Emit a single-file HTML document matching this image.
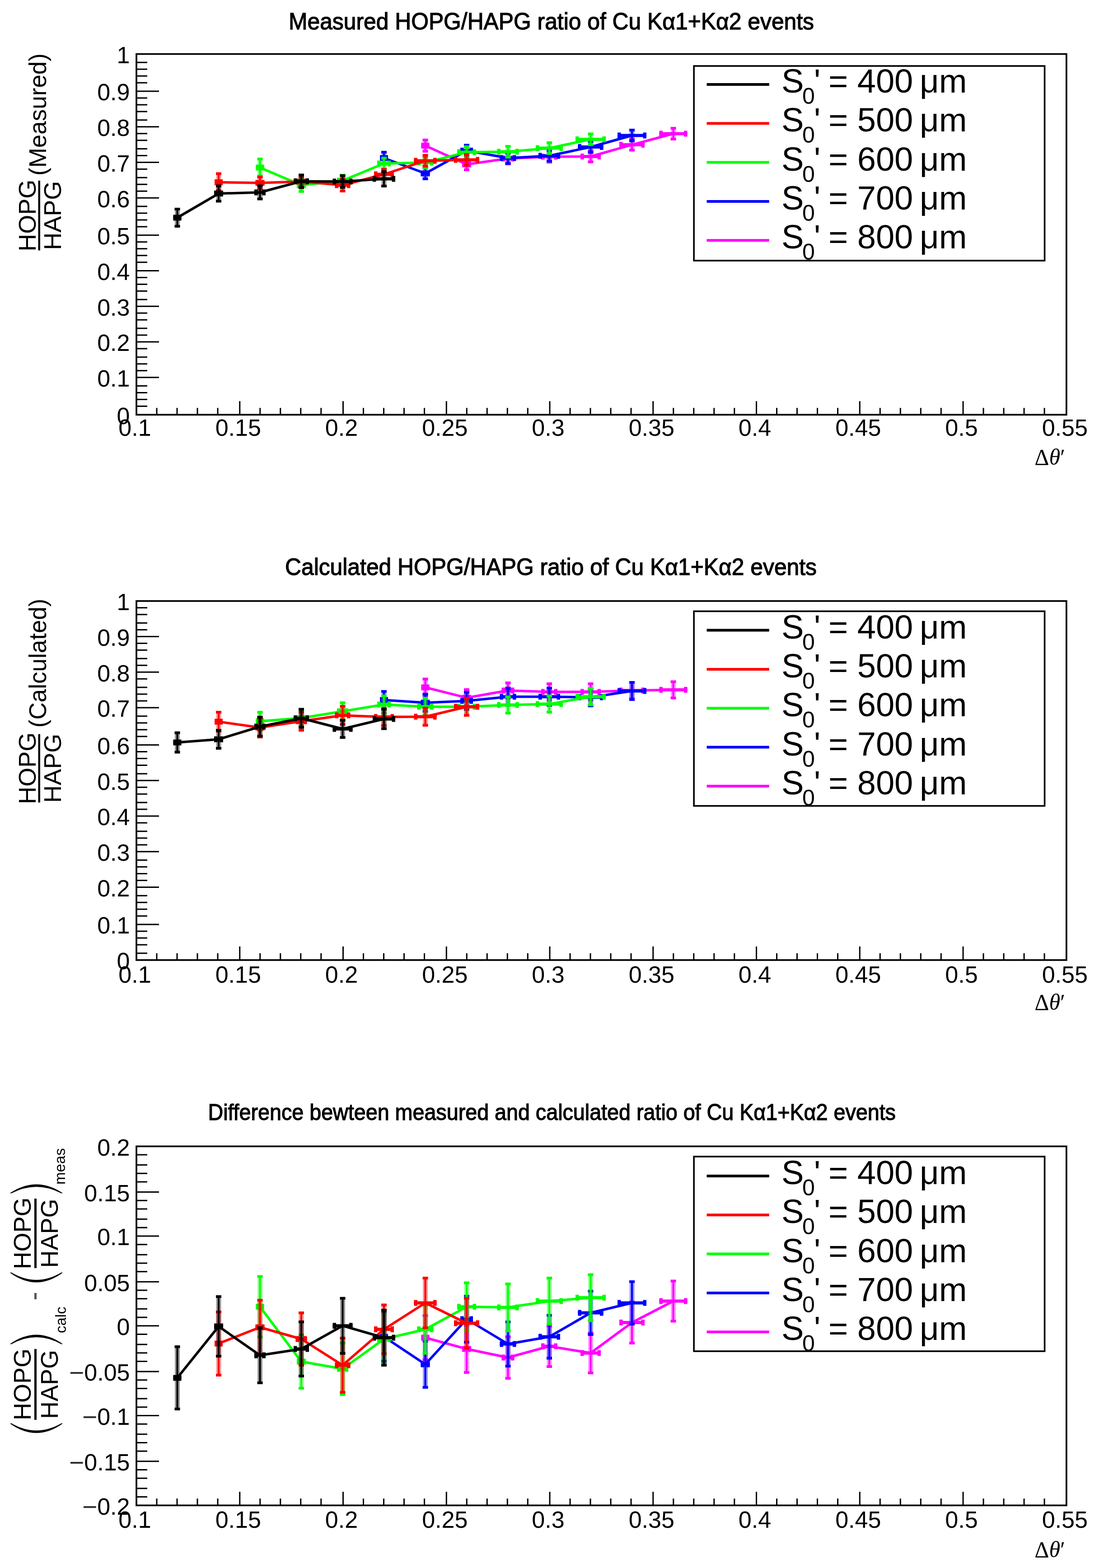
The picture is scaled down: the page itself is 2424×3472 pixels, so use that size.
<!DOCTYPE html>
<html><head><meta charset="utf-8"><title>HOPG/HAPG ratio</title>
<style>
html,body{margin:0;padding:0;background:#fff;}
svg{display:block;}
text{font-family:"Liberation Sans", Arial, Helvetica, sans-serif;fill:#000;}
</style></head>
<body>
<svg width="2424" height="3472" viewBox="0 0 2424 3472">
<rect width="2424" height="3472" fill="#fff"/>
<text x="1220.5" y="65" text-anchor="middle" font-size="52" textLength="1163" lengthAdjust="spacingAndGlyphs" stroke="#000" stroke-width="1.3">Measured HOPG/HAPG ratio of Cu Kα1+Kα2 events</text>
<path d="M302 138.35H326M302 153.35H326M302 168.35H326M302 183.35H326M302 202.1H352M302 217.1H326M302 232.1H326M302 247.1H326M302 265.85H326M302 280.85H352M302 295.85H326M302 310.85H326M302 329.6H326M302 344.6H326M302 359.6H352M302 374.6H326M302 393.35H326M302 408.35H326M302 423.35H326M302 438.35H352M302 457.1H326M302 472.1H326M302 487.1H326M302 502.1H326M302 520.85H352M302 535.85H326M302 550.85H326M302 565.85H326M302 580.85H326M302 599.6H352M302 614.6H326M302 629.6H326M302 644.6H326M302 663.35H326M302 678.35H352M302 693.35H326M302 708.35H326M302 727.1H326M302 742.1H326M302 757.1H352M302 772.1H326M302 790.85H326M302 805.85H326M302 820.85H326M302 835.85H352M302 854.6H326M302 869.6H326M302 884.6H326M302 899.6H326M347 918.35V903.35M392 918.35V903.35M437 918.35V903.35M482 918.35V903.35M530.75 918.35V888.35M575.75 918.35V903.35M620.75 918.35V903.35M665.75 918.35V903.35M710.75 918.35V903.35M759.5 918.35V888.35M804.5 918.35V903.35M849.5 918.35V903.35M894.5 918.35V903.35M939.5 918.35V903.35M988.25 918.35V888.35M1033.25 918.35V903.35M1078.25 918.35V903.35M1123.25 918.35V903.35M1168.25 918.35V903.35M1217 918.35V888.35M1262 918.35V903.35M1307 918.35V903.35M1352 918.35V903.35M1397 918.35V903.35M1445.75 918.35V888.35M1490.75 918.35V903.35M1535.75 918.35V903.35M1580.75 918.35V903.35M1625.75 918.35V903.35M1674.5 918.35V888.35M1719.5 918.35V903.35M1764.5 918.35V903.35M1809.5 918.35V903.35M1854.5 918.35V903.35M1903.25 918.35V888.35M1948.25 918.35V903.35M1993.25 918.35V903.35M2038.25 918.35V903.35M2083.25 918.35V903.35M2132 918.35V888.35M2177 918.35V903.35M2222 918.35V903.35M2267 918.35V903.35M2312 918.35V903.35" stroke="#000" stroke-width="3" fill="none"/>
<rect x="302" y="119.6" width="2058.75" height="798.75" fill="none" stroke="#000" stroke-width="3.7"/>
<text x="287.5" y="938.65" text-anchor="end" font-size="52">0</text>
<text x="287.5" y="856.15" text-anchor="end" font-size="52">0.1</text>
<text x="287.5" y="777.4" text-anchor="end" font-size="52">0.2</text>
<text x="287.5" y="698.65" text-anchor="end" font-size="52">0.3</text>
<text x="287.5" y="619.9" text-anchor="end" font-size="52">0.4</text>
<text x="287.5" y="541.15" text-anchor="end" font-size="52">0.5</text>
<text x="287.5" y="458.65" text-anchor="end" font-size="52">0.6</text>
<text x="287.5" y="379.9" text-anchor="end" font-size="52">0.7</text>
<text x="287.5" y="301.15" text-anchor="end" font-size="52">0.8</text>
<text x="287.5" y="222.4" text-anchor="end" font-size="52">0.9</text>
<text x="287.5" y="139.9" text-anchor="end" font-size="52">1</text>
<text x="298.5" y="965" text-anchor="middle" font-size="52">0.1</text>
<text x="527.25" y="965" text-anchor="middle" font-size="52">0.15</text>
<text x="756" y="965" text-anchor="middle" font-size="52">0.2</text>
<text x="984.75" y="965" text-anchor="middle" font-size="52">0.25</text>
<text x="1213.5" y="965" text-anchor="middle" font-size="52">0.3</text>
<text x="1442.25" y="965" text-anchor="middle" font-size="52">0.35</text>
<text x="1671" y="965" text-anchor="middle" font-size="52">0.4</text>
<text x="1899.75" y="965" text-anchor="middle" font-size="52">0.45</text>
<text x="2128.5" y="965" text-anchor="middle" font-size="52">0.5</text>
<text x="2357.25" y="965" text-anchor="middle" font-size="52">0.55</text>
<text x="2358" y="1029" text-anchor="end" font-size="50" style='font-family:"Liberation Serif", "DejaVu Serif", serif'>Δ<tspan font-style="italic">θ</tspan>′</text>
<polyline points="941.5,322.5 1033,364 1124.5,351 1216,347 1307.5,346.5 1399,320.6 1490.5,296" fill="none" stroke="#ff00ff" stroke-width="5.5" stroke-linejoin="round"/>
<path d="M941.5 309V336M1033 351V377M1124.5 338V364M1216 334V360M1307.5 333.5V359.5M1399 307.6V333.6M1490.5 283V309" fill="none" stroke="#ff00ff" stroke-width="11" stroke-opacity="0.4"/>
<path d="M941.5 309V336M1033 351V377M1124.5 338V364M1216 334V360M1307.5 333.5V359.5M1399 307.6V333.6M1490.5 283V309" fill="none" stroke="#ff00ff" stroke-width="4"/>
<path d="M935.5 310H947.5M935.5 335H947.5M1027 352H1039M1027 376H1039M1118.5 339H1130.5M1118.5 363H1130.5M1210 335H1222M1210 359H1222M1301.5 334.5H1313.5M1301.5 358.5H1313.5M1393 308.6H1405M1393 332.6H1405M1484.5 284H1496.5M1484.5 308H1496.5" fill="none" stroke="#ff00ff" stroke-width="6"/>
<path d="M932.5 322.5H950.5M1023 364H1043M1110.5 351H1138.5M1198 347H1234M1285 346.5H1330M1371 320.6H1427M1459.5 296H1521.5" fill="none" stroke="#ff00ff" stroke-width="7"/>
<path d="M936.25 316V329M946.75 316V329M1026.75 357.5V370.5M1039.25 357.5V370.5M1114.25 344.5V357.5M1134.75 344.5V357.5M1201.75 340.5V353.5M1230.25 340.5V353.5M1288.75 340V353M1326.25 340V353M1374.75 314.1V327.1M1423.25 314.1V327.1M1463.25 289.5V302.5M1517.75 289.5V302.5" fill="none" stroke="#ff00ff" stroke-width="7.5"/>
<polyline points="850,350 941.5,384 1033,333.5 1124.5,350 1216,345 1307.5,325.5 1399,300" fill="none" stroke="#0000ff" stroke-width="5.5" stroke-linejoin="round"/>
<path d="M850 336V364M941.5 371V397M1033 320.5V346.5M1124.5 337V363M1216 332V358M1307.5 312.5V338.5M1399 287V313" fill="none" stroke="#0000ff" stroke-width="11" stroke-opacity="0.4"/>
<path d="M850 336V364M941.5 371V397M1033 320.5V346.5M1124.5 337V363M1216 332V358M1307.5 312.5V338.5M1399 287V313" fill="none" stroke="#0000ff" stroke-width="4"/>
<path d="M844 337H856M844 363H856M935.5 372H947.5M935.5 396H947.5M1027 321.5H1039M1027 345.5H1039M1118.5 338H1130.5M1118.5 362H1130.5M1210 333H1222M1210 357H1222M1301.5 313.5H1313.5M1301.5 337.5H1313.5M1393 288H1405M1393 312H1405" fill="none" stroke="#0000ff" stroke-width="6"/>
<path d="M841 350H859M931.5 384H951.5M1019 333.5H1047M1106.5 350H1142.5M1192 345H1240M1279.5 325.5H1335.5M1367 300H1431" fill="none" stroke="#0000ff" stroke-width="7"/>
<path d="M844.75 343.5V356.5M855.25 343.5V356.5M935.25 377.5V390.5M947.75 377.5V390.5M1022.75 327V340M1043.25 327V340M1110.25 343.5V356.5M1138.75 343.5V356.5M1195.75 338.5V351.5M1236.25 338.5V351.5M1283.25 319V332M1331.75 319V332M1370.75 293.5V306.5M1427.25 293.5V306.5" fill="none" stroke="#0000ff" stroke-width="7.5"/>
<polyline points="575.5,371 667,410 758.5,400 850,362 941.5,360 1033,337 1124.5,336 1216,328 1307.5,308.5" fill="none" stroke="#00ff00" stroke-width="5.5" stroke-linejoin="round"/>
<path d="M575.5 351V391M667 395V425M758.5 387V413M850 349V375M941.5 347V373M1033 324V350M1124.5 323V349M1216 315V341M1307.5 295.5V321.5" fill="none" stroke="#00ff00" stroke-width="11" stroke-opacity="0.4"/>
<path d="M575.5 351V391M667 395V425M758.5 387V413M850 349V375M941.5 347V373M1033 324V350M1124.5 323V349M1216 315V341M1307.5 295.5V321.5" fill="none" stroke="#00ff00" stroke-width="4"/>
<path d="M569.5 352H581.5M569.5 390H581.5M661 396H673M661 424H673M752.5 388H764.5M752.5 412H764.5M844 350H856M844 374H856M935.5 348H947.5M935.5 372H947.5M1027 325H1039M1027 349H1039M1118.5 324H1130.5M1118.5 348H1130.5M1210 316H1222M1210 340H1222M1301.5 296.5H1313.5M1301.5 320.5H1313.5" fill="none" stroke="#00ff00" stroke-width="6"/>
<path d="M566.5 371H584.5M657 410H677M746 400H771M835 362H865M923.5 360H959.5M1012 337H1054M1100.5 336H1148.5M1186 328H1246M1274 308.5H1341" fill="none" stroke="#00ff00" stroke-width="7"/>
<path d="M570.25 364.5V377.5M580.75 364.5V377.5M660.75 403.5V416.5M673.25 403.5V416.5M749.75 393.5V406.5M767.25 393.5V406.5M838.75 355.5V368.5M861.25 355.5V368.5M927.25 353.5V366.5M955.75 353.5V366.5M1015.75 330.5V343.5M1050.25 330.5V343.5M1104.25 329.5V342.5M1144.75 329.5V342.5M1189.75 321.5V334.5M1242.25 321.5V334.5M1277.75 302V315M1337.25 302V315" fill="none" stroke="#00ff00" stroke-width="7.5"/>
<polyline points="484,403.6 575.5,405 667,402 758.5,410 850,386 941.5,356 1033,354" fill="none" stroke="#ff0000" stroke-width="5.5" stroke-linejoin="round"/>
<path d="M484 383.6V423.6M575.5 391V419M667 389V415M758.5 396V424M850 374V398M941.5 343V369M1033 341V367" fill="none" stroke="#ff0000" stroke-width="11" stroke-opacity="0.4"/>
<path d="M484 383.6V423.6M575.5 391V419M667 389V415M758.5 396V424M850 374V398M941.5 343V369M1033 341V367" fill="none" stroke="#ff0000" stroke-width="4"/>
<path d="M478 384.6H490M478 422.6H490M569.5 392H581.5M569.5 418H581.5M661 390H673M661 414H673M752.5 397H764.5M752.5 423H764.5M844 375H856M844 397H856M935.5 344H947.5M935.5 368H947.5M1027 342H1039M1027 366H1039" fill="none" stroke="#ff0000" stroke-width="6"/>
<path d="M475 403.6H493M565.5 405H585.5M654.5 402H679.5M741.5 410H775.5M828 386H872M916.5 356H966.5M1005 354H1061" fill="none" stroke="#ff0000" stroke-width="7"/>
<path d="M478.75 397.1V410.1M489.25 397.1V410.1M569.25 398.5V411.5M581.75 398.5V411.5M658.25 395.5V408.5M675.75 395.5V408.5M745.25 403.5V416.5M771.75 403.5V416.5M831.75 379.5V392.5M868.25 379.5V392.5M920.25 349.5V362.5M962.75 349.5V362.5M1008.75 347.5V360.5M1057.25 347.5V360.5" fill="none" stroke="#ff0000" stroke-width="7.5"/>
<polyline points="392.5,482 484,428.6 575.5,426 667,401.5 758.5,402 850,396" fill="none" stroke="#000000" stroke-width="5.5" stroke-linejoin="round"/>
<path d="M392.5 462V502M484 410.6V446.6M575.5 410.5V441.5M667 386.5V416.5M758.5 388V416M850 379V413" fill="none" stroke="#000000" stroke-width="11" stroke-opacity="0.4"/>
<path d="M392.5 462V502M484 410.6V446.6M575.5 410.5V441.5M667 386.5V416.5M758.5 388V416M850 379V413" fill="none" stroke="#000000" stroke-width="4"/>
<path d="M386.5 463H398.5M386.5 501H398.5M478 411.6H490M478 445.6H490M569.5 411.5H581.5M569.5 440.5H581.5M661 387.5H673M661 415.5H673M752.5 389H764.5M752.5 415H764.5M844 380H856M844 412H856" fill="none" stroke="#000000" stroke-width="6"/>
<path d="M383.5 482H401.5M474 428.6H494M563 426H588M650 401.5H684M736.5 402H780.5M825 396H875" fill="none" stroke="#000000" stroke-width="7"/>
<path d="M387.25 475.5V488.5M397.75 475.5V488.5M477.75 422.1V435.1M490.25 422.1V435.1M566.75 419.5V432.5M584.25 419.5V432.5M653.75 395V408M680.25 395V408M740.25 395.5V408.5M776.75 395.5V408.5M828.75 389.5V402.5M871.25 389.5V402.5" fill="none" stroke="#000000" stroke-width="7.5"/>
<rect x="1536.1" y="146.1" width="776.4" height="431" fill="#fff" stroke="#000" stroke-width="3.6"/>
<line x1="1564.5" y1="187" x2="1702.7" y2="187" stroke="#000000" stroke-width="6"/>
<text x="1730" y="205" font-size="74">S</text>
<text x="1776" y="230" font-size="50">0</text>
<text x="1802" y="205" font-size="74">'</text>
<text x="1834" y="205" font-size="74">= 400</text>
<text x="2036" y="205" font-size="74">μm</text>
<line x1="1564.5" y1="273.3" x2="1702.7" y2="273.3" stroke="#ff0000" stroke-width="6"/>
<text x="1730" y="291.3" font-size="74">S</text>
<text x="1776" y="316.3" font-size="50">0</text>
<text x="1802" y="291.3" font-size="74">'</text>
<text x="1834" y="291.3" font-size="74">= 500</text>
<text x="2036" y="291.3" font-size="74">μm</text>
<line x1="1564.5" y1="359.6" x2="1702.7" y2="359.6" stroke="#00ff00" stroke-width="6"/>
<text x="1730" y="377.6" font-size="74">S</text>
<text x="1776" y="402.6" font-size="50">0</text>
<text x="1802" y="377.6" font-size="74">'</text>
<text x="1834" y="377.6" font-size="74">= 600</text>
<text x="2036" y="377.6" font-size="74">μm</text>
<line x1="1564.5" y1="445.9" x2="1702.7" y2="445.9" stroke="#0000ff" stroke-width="6"/>
<text x="1730" y="463.9" font-size="74">S</text>
<text x="1776" y="488.9" font-size="50">0</text>
<text x="1802" y="463.9" font-size="74">'</text>
<text x="1834" y="463.9" font-size="74">= 700</text>
<text x="2036" y="463.9" font-size="74">μm</text>
<line x1="1564.5" y1="532.2" x2="1702.7" y2="532.2" stroke="#ff00ff" stroke-width="6"/>
<text x="1730" y="550.2" font-size="74">S</text>
<text x="1776" y="575.2" font-size="50">0</text>
<text x="1802" y="550.2" font-size="74">'</text>
<text x="1834" y="550.2" font-size="74">= 800</text>
<text x="2036" y="550.2" font-size="74">μm</text>
<text x="1219.5" y="1273" text-anchor="middle" font-size="52" textLength="1177" lengthAdjust="spacingAndGlyphs" stroke="#000" stroke-width="1.3">Calculated HOPG/HAPG ratio of Cu Kα1+Kα2 events</text>
<path d="M302 1345.85H326M302 1360.85H326M302 1379.6H326M302 1394.6H326M302 1409.6H352M302 1424.6H326M302 1439.6H326M302 1458.35H326M302 1473.35H326M302 1488.35H352M302 1503.35H326M302 1522.1H326M302 1537.1H326M302 1552.1H326M302 1567.1H352M302 1585.85H326M302 1600.85H326M302 1615.85H326M302 1630.85H326M302 1649.6H352M302 1664.6H326M302 1679.6H326M302 1694.6H326M302 1713.35H326M302 1728.35H352M302 1743.35H326M302 1758.35H326M302 1777.1H326M302 1792.1H326M302 1807.1H352M302 1822.1H326M302 1840.85H326M302 1855.85H326M302 1870.85H326M302 1885.85H352M302 1904.6H326M302 1919.6H326M302 1934.6H326M302 1949.6H326M302 1964.6H352M302 1983.35H326M302 1998.35H326M302 2013.35H326M302 2028.35H326M302 2047.1H352M302 2062.1H326M302 2077.1H326M302 2092.1H326M302 2110.85H326M347 2125.85V2110.85M392 2125.85V2110.85M437 2125.85V2110.85M482 2125.85V2110.85M530.75 2125.85V2095.85M575.75 2125.85V2110.85M620.75 2125.85V2110.85M665.75 2125.85V2110.85M710.75 2125.85V2110.85M759.5 2125.85V2095.85M804.5 2125.85V2110.85M849.5 2125.85V2110.85M894.5 2125.85V2110.85M939.5 2125.85V2110.85M988.25 2125.85V2095.85M1033.25 2125.85V2110.85M1078.25 2125.85V2110.85M1123.25 2125.85V2110.85M1168.25 2125.85V2110.85M1217 2125.85V2095.85M1262 2125.85V2110.85M1307 2125.85V2110.85M1352 2125.85V2110.85M1397 2125.85V2110.85M1445.75 2125.85V2095.85M1490.75 2125.85V2110.85M1535.75 2125.85V2110.85M1580.75 2125.85V2110.85M1625.75 2125.85V2110.85M1674.5 2125.85V2095.85M1719.5 2125.85V2110.85M1764.5 2125.85V2110.85M1809.5 2125.85V2110.85M1854.5 2125.85V2110.85M1903.25 2125.85V2095.85M1948.25 2125.85V2110.85M1993.25 2125.85V2110.85M2038.25 2125.85V2110.85M2083.25 2125.85V2110.85M2132 2125.85V2095.85M2177 2125.85V2110.85M2222 2125.85V2110.85M2267 2125.85V2110.85M2312 2125.85V2110.85" stroke="#000" stroke-width="3" fill="none"/>
<rect x="302" y="1330.85" width="2058.75" height="795" fill="none" stroke="#000" stroke-width="3.7"/>
<text x="287.5" y="2146.15" text-anchor="end" font-size="52">0</text>
<text x="287.5" y="2067.4" text-anchor="end" font-size="52">0.1</text>
<text x="287.5" y="1984.9" text-anchor="end" font-size="52">0.2</text>
<text x="287.5" y="1906.15" text-anchor="end" font-size="52">0.3</text>
<text x="287.5" y="1827.4" text-anchor="end" font-size="52">0.4</text>
<text x="287.5" y="1748.65" text-anchor="end" font-size="52">0.5</text>
<text x="287.5" y="1669.9" text-anchor="end" font-size="52">0.6</text>
<text x="287.5" y="1587.4" text-anchor="end" font-size="52">0.7</text>
<text x="287.5" y="1508.65" text-anchor="end" font-size="52">0.8</text>
<text x="287.5" y="1429.9" text-anchor="end" font-size="52">0.9</text>
<text x="287.5" y="1351.15" text-anchor="end" font-size="52">1</text>
<text x="298.5" y="2176" text-anchor="middle" font-size="52">0.1</text>
<text x="527.25" y="2176" text-anchor="middle" font-size="52">0.15</text>
<text x="756" y="2176" text-anchor="middle" font-size="52">0.2</text>
<text x="984.75" y="2176" text-anchor="middle" font-size="52">0.25</text>
<text x="1213.5" y="2176" text-anchor="middle" font-size="52">0.3</text>
<text x="1442.25" y="2176" text-anchor="middle" font-size="52">0.35</text>
<text x="1671" y="2176" text-anchor="middle" font-size="52">0.4</text>
<text x="1899.75" y="2176" text-anchor="middle" font-size="52">0.45</text>
<text x="2128.5" y="2176" text-anchor="middle" font-size="52">0.5</text>
<text x="2357.25" y="2176" text-anchor="middle" font-size="52">0.55</text>
<text x="2358" y="2236" text-anchor="end" font-size="50" style='font-family:"Liberation Serif", "DejaVu Serif", serif'>Δ<tspan font-style="italic">θ</tspan>′</text>
<polyline points="941.5,1522 1033,1545 1124.5,1529 1216,1532 1307.5,1532 1399,1529 1490.5,1527.6" fill="none" stroke="#ff00ff" stroke-width="5.5" stroke-linejoin="round"/>
<path d="M941.5 1502.5V1541.5M1033 1526V1564M1124.5 1511V1547M1216 1513V1551M1307.5 1513V1551M1399 1510V1548M1490.5 1508.6V1546.6" fill="none" stroke="#ff00ff" stroke-width="11" stroke-opacity="0.4"/>
<path d="M941.5 1502.5V1541.5M1033 1526V1564M1124.5 1511V1547M1216 1513V1551M1307.5 1513V1551M1399 1510V1548M1490.5 1508.6V1546.6" fill="none" stroke="#ff00ff" stroke-width="4"/>
<path d="M935.5 1503.5H947.5M935.5 1540.5H947.5M1027 1527H1039M1027 1563H1039M1118.5 1512H1130.5M1118.5 1546H1130.5M1210 1514H1222M1210 1550H1222M1301.5 1514H1313.5M1301.5 1550H1313.5M1393 1511H1405M1393 1547H1405M1484.5 1509.6H1496.5M1484.5 1545.6H1496.5" fill="none" stroke="#ff00ff" stroke-width="6"/>
<path d="M932.5 1522H950.5M1023 1545H1043M1110.5 1529H1138.5M1198 1532H1234M1285 1532H1330M1371 1529H1427M1459.5 1527.6H1521.5" fill="none" stroke="#ff00ff" stroke-width="7"/>
<path d="M936.25 1515.5V1528.5M946.75 1515.5V1528.5M1026.75 1538.5V1551.5M1039.25 1538.5V1551.5M1114.25 1522.5V1535.5M1134.75 1522.5V1535.5M1201.75 1525.5V1538.5M1230.25 1525.5V1538.5M1288.75 1525.5V1538.5M1326.25 1525.5V1538.5M1374.75 1522.5V1535.5M1423.25 1522.5V1535.5M1463.25 1521.1V1534.1M1517.75 1521.1V1534.1" fill="none" stroke="#ff00ff" stroke-width="7.5"/>
<polyline points="850,1550 941.5,1556 1033,1552 1124.5,1542.7 1216,1542.7 1307.5,1544 1399,1530" fill="none" stroke="#0000ff" stroke-width="5.5" stroke-linejoin="round"/>
<path d="M850 1530V1570M941.5 1536V1576M1033 1532V1572M1124.5 1522.7V1562.7M1216 1522.7V1562.7M1307.5 1524V1564M1399 1510V1550" fill="none" stroke="#0000ff" stroke-width="11" stroke-opacity="0.4"/>
<path d="M850 1530V1570M941.5 1536V1576M1033 1532V1572M1124.5 1522.7V1562.7M1216 1522.7V1562.7M1307.5 1524V1564M1399 1510V1550" fill="none" stroke="#0000ff" stroke-width="4"/>
<path d="M844 1531H856M844 1569H856M935.5 1537H947.5M935.5 1575H947.5M1027 1533H1039M1027 1571H1039M1118.5 1523.7H1130.5M1118.5 1561.7H1130.5M1210 1523.7H1222M1210 1561.7H1222M1301.5 1525H1313.5M1301.5 1563H1313.5M1393 1511H1405M1393 1549H1405" fill="none" stroke="#0000ff" stroke-width="6"/>
<path d="M841 1550H859M931.5 1556H951.5M1019 1552H1047M1106.5 1542.7H1142.5M1192 1542.7H1240M1279.5 1544H1335.5M1367 1530H1431" fill="none" stroke="#0000ff" stroke-width="7"/>
<path d="M844.75 1543.5V1556.5M855.25 1543.5V1556.5M935.25 1549.5V1562.5M947.75 1549.5V1562.5M1022.75 1545.5V1558.5M1043.25 1545.5V1558.5M1110.25 1536.2V1549.2M1138.75 1536.2V1549.2M1195.75 1536.2V1549.2M1236.25 1536.2V1549.2M1283.25 1537.5V1550.5M1331.75 1537.5V1550.5M1370.75 1523.5V1536.5M1427.25 1523.5V1536.5" fill="none" stroke="#0000ff" stroke-width="7.5"/>
<polyline points="575.5,1597 667,1590 758.5,1575 850,1560 941.5,1565 1033,1565 1124.5,1561 1216,1559 1307.5,1542.7" fill="none" stroke="#00ff00" stroke-width="5.5" stroke-linejoin="round"/>
<path d="M575.5 1576V1618M667 1570V1610M758.5 1555V1595M850 1540V1580M941.5 1545V1585M1033 1545V1585M1124.5 1542V1580M1216 1540V1578M1307.5 1523.7V1561.7" fill="none" stroke="#00ff00" stroke-width="11" stroke-opacity="0.4"/>
<path d="M575.5 1576V1618M667 1570V1610M758.5 1555V1595M850 1540V1580M941.5 1545V1585M1033 1545V1585M1124.5 1542V1580M1216 1540V1578M1307.5 1523.7V1561.7" fill="none" stroke="#00ff00" stroke-width="4"/>
<path d="M569.5 1577H581.5M569.5 1617H581.5M661 1571H673M661 1609H673M752.5 1556H764.5M752.5 1594H764.5M844 1541H856M844 1579H856M935.5 1546H947.5M935.5 1584H947.5M1027 1546H1039M1027 1584H1039M1118.5 1543H1130.5M1118.5 1579H1130.5M1210 1541H1222M1210 1577H1222M1301.5 1524.7H1313.5M1301.5 1560.7H1313.5" fill="none" stroke="#00ff00" stroke-width="6"/>
<path d="M566.5 1597H584.5M657 1590H677M746 1575H771M835 1560H865M923.5 1565H959.5M1012 1565H1054M1100.5 1561H1148.5M1186 1559H1246M1274 1542.7H1341" fill="none" stroke="#00ff00" stroke-width="7"/>
<path d="M570.25 1590.5V1603.5M580.75 1590.5V1603.5M660.75 1583.5V1596.5M673.25 1583.5V1596.5M749.75 1568.5V1581.5M767.25 1568.5V1581.5M838.75 1553.5V1566.5M861.25 1553.5V1566.5M927.25 1558.5V1571.5M955.75 1558.5V1571.5M1015.75 1558.5V1571.5M1050.25 1558.5V1571.5M1104.25 1554.5V1567.5M1144.75 1554.5V1567.5M1189.75 1552.5V1565.5M1242.25 1552.5V1565.5M1277.75 1536.2V1549.2M1337.25 1536.2V1549.2" fill="none" stroke="#00ff00" stroke-width="7.5"/>
<polyline points="484,1598 575.5,1611 667,1597 758.5,1584 850,1587.5 941.5,1587 1033,1565" fill="none" stroke="#ff0000" stroke-width="5.5" stroke-linejoin="round"/>
<path d="M484 1576V1620M575.5 1589V1633M667 1576V1618M758.5 1563V1605M850 1567.5V1607.5M941.5 1567V1607M1033 1545V1585" fill="none" stroke="#ff0000" stroke-width="11" stroke-opacity="0.4"/>
<path d="M484 1576V1620M575.5 1589V1633M667 1576V1618M758.5 1563V1605M850 1567.5V1607.5M941.5 1567V1607M1033 1545V1585" fill="none" stroke="#ff0000" stroke-width="4"/>
<path d="M478 1577H490M478 1619H490M569.5 1590H581.5M569.5 1632H581.5M661 1577H673M661 1617H673M752.5 1564H764.5M752.5 1604H764.5M844 1568.5H856M844 1606.5H856M935.5 1568H947.5M935.5 1606H947.5M1027 1546H1039M1027 1584H1039" fill="none" stroke="#ff0000" stroke-width="6"/>
<path d="M475 1598H493M565.5 1611H585.5M654.5 1597H679.5M741.5 1584H775.5M828 1587.5H872M916.5 1587H966.5M1005 1565H1061" fill="none" stroke="#ff0000" stroke-width="7"/>
<path d="M478.75 1591.5V1604.5M489.25 1591.5V1604.5M569.25 1604.5V1617.5M581.75 1604.5V1617.5M658.25 1590.5V1603.5M675.75 1590.5V1603.5M745.25 1577.5V1590.5M771.75 1577.5V1590.5M831.75 1581V1594M868.25 1581V1594M920.25 1580.5V1593.5M962.75 1580.5V1593.5M1008.75 1558.5V1571.5M1057.25 1558.5V1571.5" fill="none" stroke="#ff0000" stroke-width="7.5"/>
<polyline points="392.5,1644 484,1637 575.5,1609 667,1590.5 758.5,1614 850,1592" fill="none" stroke="#000000" stroke-width="5.5" stroke-linejoin="round"/>
<path d="M392.5 1621.5V1666.5M484 1616V1658M575.5 1587V1631M667 1569.5V1611.5M758.5 1594V1634M850 1569.5V1614.5" fill="none" stroke="#000000" stroke-width="11" stroke-opacity="0.4"/>
<path d="M392.5 1621.5V1666.5M484 1616V1658M575.5 1587V1631M667 1569.5V1611.5M758.5 1594V1634M850 1569.5V1614.5" fill="none" stroke="#000000" stroke-width="4"/>
<path d="M386.5 1622.5H398.5M386.5 1665.5H398.5M478 1617H490M478 1657H490M569.5 1588H581.5M569.5 1630H581.5M661 1570.5H673M661 1610.5H673M752.5 1595H764.5M752.5 1633H764.5M844 1570.5H856M844 1613.5H856" fill="none" stroke="#000000" stroke-width="6"/>
<path d="M383.5 1644H401.5M474 1637H494M563 1609H588M650 1590.5H684M736.5 1614H780.5M825 1592H875" fill="none" stroke="#000000" stroke-width="7"/>
<path d="M387.25 1637.5V1650.5M397.75 1637.5V1650.5M477.75 1630.5V1643.5M490.25 1630.5V1643.5M566.75 1602.5V1615.5M584.25 1602.5V1615.5M653.75 1584V1597M680.25 1584V1597M740.25 1607.5V1620.5M776.75 1607.5V1620.5M828.75 1585.5V1598.5M871.25 1585.5V1598.5" fill="none" stroke="#000000" stroke-width="7.5"/>
<rect x="1536.1" y="1353.5" width="776.4" height="431" fill="#fff" stroke="#000" stroke-width="3.6"/>
<line x1="1564.5" y1="1395.6" x2="1702.7" y2="1395.6" stroke="#000000" stroke-width="6"/>
<text x="1730" y="1413.6" font-size="74">S</text>
<text x="1776" y="1438.6" font-size="50">0</text>
<text x="1802" y="1413.6" font-size="74">'</text>
<text x="1834" y="1413.6" font-size="74">= 400</text>
<text x="2036" y="1413.6" font-size="74">μm</text>
<line x1="1564.5" y1="1481.9" x2="1702.7" y2="1481.9" stroke="#ff0000" stroke-width="6"/>
<text x="1730" y="1499.9" font-size="74">S</text>
<text x="1776" y="1524.9" font-size="50">0</text>
<text x="1802" y="1499.9" font-size="74">'</text>
<text x="1834" y="1499.9" font-size="74">= 500</text>
<text x="2036" y="1499.9" font-size="74">μm</text>
<line x1="1564.5" y1="1568.2" x2="1702.7" y2="1568.2" stroke="#00ff00" stroke-width="6"/>
<text x="1730" y="1586.2" font-size="74">S</text>
<text x="1776" y="1611.2" font-size="50">0</text>
<text x="1802" y="1586.2" font-size="74">'</text>
<text x="1834" y="1586.2" font-size="74">= 600</text>
<text x="2036" y="1586.2" font-size="74">μm</text>
<line x1="1564.5" y1="1654.5" x2="1702.7" y2="1654.5" stroke="#0000ff" stroke-width="6"/>
<text x="1730" y="1672.5" font-size="74">S</text>
<text x="1776" y="1697.5" font-size="50">0</text>
<text x="1802" y="1672.5" font-size="74">'</text>
<text x="1834" y="1672.5" font-size="74">= 700</text>
<text x="2036" y="1672.5" font-size="74">μm</text>
<line x1="1564.5" y1="1740.8" x2="1702.7" y2="1740.8" stroke="#ff00ff" stroke-width="6"/>
<text x="1730" y="1758.8" font-size="74">S</text>
<text x="1776" y="1783.8" font-size="50">0</text>
<text x="1802" y="1758.8" font-size="74">'</text>
<text x="1834" y="1758.8" font-size="74">= 800</text>
<text x="2036" y="1758.8" font-size="74">μm</text>
<text x="1221.7" y="2480" text-anchor="middle" font-size="50" textLength="1522.5" lengthAdjust="spacingAndGlyphs" stroke="#000" stroke-width="1.3">Difference bewteen measured and calculated ratio of Cu Kα1+Kα2 events</text>
<path d="M302 2557.1H326M302 2579.6H326M302 2598.35H326M302 2617.1H326M302 2639.6H352M302 2658.35H326M302 2677.1H326M302 2699.6H326M302 2718.35H326M302 2737.1H352M302 2755.85H326M302 2778.35H326M302 2797.1H326M302 2815.85H326M302 2838.35H352M302 2857.1H326M302 2875.85H326M302 2898.35H326M302 2917.1H326M302 2935.85H352M302 2954.6H326M302 2977.1H326M302 2995.85H326M302 3014.6H326M302 3037.1H352M302 3055.85H326M302 3074.6H326M302 3097.1H326M302 3115.85H326M302 3134.6H352M302 3153.35H326M302 3175.85H326M302 3194.6H326M302 3213.35H326M302 3235.85H352M302 3254.6H326M302 3273.35H326M302 3295.85H326M302 3314.6H326M347 3333.35V3318.35M392 3333.35V3318.35M437 3333.35V3318.35M482 3333.35V3318.35M530.75 3333.35V3303.35M575.75 3333.35V3318.35M620.75 3333.35V3318.35M665.75 3333.35V3318.35M710.75 3333.35V3318.35M759.5 3333.35V3303.35M804.5 3333.35V3318.35M849.5 3333.35V3318.35M894.5 3333.35V3318.35M939.5 3333.35V3318.35M988.25 3333.35V3303.35M1033.25 3333.35V3318.35M1078.25 3333.35V3318.35M1123.25 3333.35V3318.35M1168.25 3333.35V3318.35M1217 3333.35V3303.35M1262 3333.35V3318.35M1307 3333.35V3318.35M1352 3333.35V3318.35M1397 3333.35V3318.35M1445.75 3333.35V3303.35M1490.75 3333.35V3318.35M1535.75 3333.35V3318.35M1580.75 3333.35V3318.35M1625.75 3333.35V3318.35M1674.5 3333.35V3303.35M1719.5 3333.35V3318.35M1764.5 3333.35V3318.35M1809.5 3333.35V3318.35M1854.5 3333.35V3318.35M1903.25 3333.35V3303.35M1948.25 3333.35V3318.35M1993.25 3333.35V3318.35M2038.25 3333.35V3318.35M2083.25 3333.35V3318.35M2132 3333.35V3303.35M2177 3333.35V3318.35M2222 3333.35V3318.35M2267 3333.35V3318.35M2312 3333.35V3318.35" stroke="#000" stroke-width="3" fill="none"/>
<rect x="302" y="2538.35" width="2058.75" height="795" fill="none" stroke="#000" stroke-width="3.7"/>
<text x="287.5" y="3353.65" text-anchor="end" font-size="52"><tspan fill="#333" font-size="57" dy="2">−</tspan><tspan dy="-2">0.2</tspan></text>
<text x="287.5" y="3256.15" text-anchor="end" font-size="52"><tspan fill="#333" font-size="57" dy="2">−</tspan><tspan dy="-2">0.15</tspan></text>
<text x="287.5" y="3154.9" text-anchor="end" font-size="52"><tspan fill="#333" font-size="57" dy="2">−</tspan><tspan dy="-2">0.1</tspan></text>
<text x="287.5" y="3057.4" text-anchor="end" font-size="52"><tspan fill="#333" font-size="57" dy="2">−</tspan><tspan dy="-2">0.05</tspan></text>
<text x="287.5" y="2956.15" text-anchor="end" font-size="52">0</text>
<text x="287.5" y="2858.65" text-anchor="end" font-size="52">0.05</text>
<text x="287.5" y="2757.4" text-anchor="end" font-size="52">0.1</text>
<text x="287.5" y="2659.9" text-anchor="end" font-size="52">0.15</text>
<text x="287.5" y="2558.65" text-anchor="end" font-size="52">0.2</text>
<text x="298.5" y="3383.4" text-anchor="middle" font-size="52">0.1</text>
<text x="527.25" y="3383.4" text-anchor="middle" font-size="52">0.15</text>
<text x="756" y="3383.4" text-anchor="middle" font-size="52">0.2</text>
<text x="984.75" y="3383.4" text-anchor="middle" font-size="52">0.25</text>
<text x="1213.5" y="3383.4" text-anchor="middle" font-size="52">0.3</text>
<text x="1442.25" y="3383.4" text-anchor="middle" font-size="52">0.35</text>
<text x="1671" y="3383.4" text-anchor="middle" font-size="52">0.4</text>
<text x="1899.75" y="3383.4" text-anchor="middle" font-size="52">0.45</text>
<text x="2128.5" y="3383.4" text-anchor="middle" font-size="52">0.5</text>
<text x="2357.25" y="3383.4" text-anchor="middle" font-size="52">0.55</text>
<text x="2358" y="3447.6" text-anchor="end" font-size="50" style='font-family:"Liberation Serif", "DejaVu Serif", serif'>Δ<tspan font-style="italic">θ</tspan>′</text>
<polyline points="941.5,2962 1033,2987 1124.5,3006 1216,2981 1307.5,2996 1399,2928.5 1490.5,2881" fill="none" stroke="#ff00ff" stroke-width="5.5" stroke-linejoin="round"/>
<path d="M941.5 2912V3012M1033 2934V3040M1124.5 2959V3053M1216 2935V3027M1307.5 2951V3041M1399 2882V2975M1490.5 2835.5V2926.5" fill="none" stroke="#ff00ff" stroke-width="11" stroke-opacity="0.4"/>
<path d="M941.5 2912V3012M1033 2934V3040M1124.5 2959V3053M1216 2935V3027M1307.5 2951V3041M1399 2882V2975M1490.5 2835.5V2926.5" fill="none" stroke="#ff00ff" stroke-width="4"/>
<path d="M935.5 2913H947.5M935.5 3011H947.5M1027 2935H1039M1027 3039H1039M1118.5 2960H1130.5M1118.5 3052H1130.5M1210 2936H1222M1210 3026H1222M1301.5 2952H1313.5M1301.5 3040H1313.5M1393 2883H1405M1393 2974H1405M1484.5 2836.5H1496.5M1484.5 2925.5H1496.5" fill="none" stroke="#ff00ff" stroke-width="6"/>
<path d="M932.5 2962H950.5M1023 2987H1043M1110.5 3006H1138.5M1198 2981H1234M1285 2996H1330M1371 2928.5H1427M1459.5 2881H1521.5" fill="none" stroke="#ff00ff" stroke-width="7"/>
<path d="M936.25 2955.5V2968.5M946.75 2955.5V2968.5M1026.75 2980.5V2993.5M1039.25 2980.5V2993.5M1114.25 2999.5V3012.5M1134.75 2999.5V3012.5M1201.75 2974.5V2987.5M1230.25 2974.5V2987.5M1288.75 2989.5V3002.5M1326.25 2989.5V3002.5M1374.75 2922V2935M1423.25 2922V2935M1463.25 2874.5V2887.5M1517.75 2874.5V2887.5" fill="none" stroke="#ff00ff" stroke-width="7.5"/>
<polyline points="850,2960 941.5,3021 1033,2921 1124.5,2976 1216,2960 1307.5,2907 1399,2885" fill="none" stroke="#0000ff" stroke-width="5.5" stroke-linejoin="round"/>
<path d="M850 2905V3015M941.5 2969V3073M1033 2869V2973M1124.5 2926V3026M1216 2911.5V3008.5M1307.5 2858V2956M1399 2837V2933" fill="none" stroke="#0000ff" stroke-width="11" stroke-opacity="0.4"/>
<path d="M850 2905V3015M941.5 2969V3073M1033 2869V2973M1124.5 2926V3026M1216 2911.5V3008.5M1307.5 2858V2956M1399 2837V2933" fill="none" stroke="#0000ff" stroke-width="4"/>
<path d="M844 2906H856M844 3014H856M935.5 2970H947.5M935.5 3072H947.5M1027 2870H1039M1027 2972H1039M1118.5 2927H1130.5M1118.5 3025H1130.5M1210 2912.5H1222M1210 3007.5H1222M1301.5 2859H1313.5M1301.5 2955H1313.5M1393 2838H1405M1393 2932H1405" fill="none" stroke="#0000ff" stroke-width="6"/>
<path d="M841 2960H859M931.5 3021H951.5M1019 2921H1047M1106.5 2976H1142.5M1192 2960H1240M1279.5 2907H1335.5M1367 2885H1431" fill="none" stroke="#0000ff" stroke-width="7"/>
<path d="M844.75 2953.5V2966.5M855.25 2953.5V2966.5M935.25 3014.5V3027.5M947.75 3014.5V3027.5M1022.75 2914.5V2927.5M1043.25 2914.5V2927.5M1110.25 2969.5V2982.5M1138.75 2969.5V2982.5M1195.75 2953.5V2966.5M1236.25 2953.5V2966.5M1283.25 2900.5V2913.5M1331.75 2900.5V2913.5M1370.75 2878.5V2891.5M1427.25 2878.5V2891.5" fill="none" stroke="#0000ff" stroke-width="7.5"/>
<polyline points="575.5,2893.6 667,3015 758.5,3031 850,2965 941.5,2943.5 1033,2893.6 1124.5,2895 1216,2881 1307.5,2873.6" fill="none" stroke="#00ff00" stroke-width="5.5" stroke-linejoin="round"/>
<path d="M575.5 2825.6V2961.6M667 2955V3075M758.5 2973V3089M850 2909V3021M941.5 2889.5V2997.5M1033 2839.6V2947.6M1124.5 2842V2948M1216 2829V2933M1307.5 2821.6V2925.6" fill="none" stroke="#00ff00" stroke-width="11" stroke-opacity="0.4"/>
<path d="M575.5 2825.6V2961.6M667 2955V3075M758.5 2973V3089M850 2909V3021M941.5 2889.5V2997.5M1033 2839.6V2947.6M1124.5 2842V2948M1216 2829V2933M1307.5 2821.6V2925.6" fill="none" stroke="#00ff00" stroke-width="4"/>
<path d="M569.5 2826.6H581.5M569.5 2960.6H581.5M661 2956H673M661 3074H673M752.5 2974H764.5M752.5 3088H764.5M844 2910H856M844 3020H856M935.5 2890.5H947.5M935.5 2996.5H947.5M1027 2840.6H1039M1027 2946.6H1039M1118.5 2843H1130.5M1118.5 2947H1130.5M1210 2830H1222M1210 2932H1222M1301.5 2822.6H1313.5M1301.5 2924.6H1313.5" fill="none" stroke="#00ff00" stroke-width="6"/>
<path d="M566.5 2893.6H584.5M657 3015H677M746 3031H771M835 2965H865M923.5 2943.5H959.5M1012 2893.6H1054M1100.5 2895H1148.5M1186 2881H1246M1274 2873.6H1341" fill="none" stroke="#00ff00" stroke-width="7"/>
<path d="M570.25 2887.1V2900.1M580.75 2887.1V2900.1M660.75 3008.5V3021.5M673.25 3008.5V3021.5M749.75 3024.5V3037.5M767.25 3024.5V3037.5M838.75 2958.5V2971.5M861.25 2958.5V2971.5M927.25 2937V2950M955.75 2937V2950M1015.75 2887.1V2900.1M1050.25 2887.1V2900.1M1104.25 2888.5V2901.5M1144.75 2888.5V2901.5M1189.75 2874.5V2887.5M1242.25 2874.5V2887.5M1277.75 2867.1V2880.1M1337.25 2867.1V2880.1" fill="none" stroke="#00ff00" stroke-width="7.5"/>
<polyline points="484,2975 575.5,2939 667,2965 758.5,3023 850,2943.5 941.5,2885 1033,2930" fill="none" stroke="#ff0000" stroke-width="5.5" stroke-linejoin="round"/>
<path d="M484 2904V3046M575.5 2878V3000M667 2906V3024M758.5 2962V3084M850 2888.5V2998.5M941.5 2829V2941M1033 2874V2986" fill="none" stroke="#ff0000" stroke-width="11" stroke-opacity="0.4"/>
<path d="M484 2904V3046M575.5 2878V3000M667 2906V3024M758.5 2962V3084M850 2888.5V2998.5M941.5 2829V2941M1033 2874V2986" fill="none" stroke="#ff0000" stroke-width="4"/>
<path d="M478 2905H490M478 3045H490M569.5 2879H581.5M569.5 2999H581.5M661 2907H673M661 3023H673M752.5 2963H764.5M752.5 3083H764.5M844 2889.5H856M844 2997.5H856M935.5 2830H947.5M935.5 2940H947.5M1027 2875H1039M1027 2985H1039" fill="none" stroke="#ff0000" stroke-width="6"/>
<path d="M475 2975H493M565.5 2939H585.5M654.5 2965H679.5M741.5 3023H775.5M828 2943.5H872M916.5 2885H966.5M1005 2930H1061" fill="none" stroke="#ff0000" stroke-width="7"/>
<path d="M478.75 2968.5V2981.5M489.25 2968.5V2981.5M569.25 2932.5V2945.5M581.75 2932.5V2945.5M658.25 2958.5V2971.5M675.75 2958.5V2971.5M745.25 3016.5V3029.5M771.75 3016.5V3029.5M831.75 2937V2950M868.25 2937V2950M920.25 2878.5V2891.5M962.75 2878.5V2891.5M1008.75 2923.5V2936.5M1057.25 2923.5V2936.5" fill="none" stroke="#ff0000" stroke-width="7.5"/>
<polyline points="392.5,3051 484,2937 575.5,3001 667,2987 758.5,2935.7 850,2962" fill="none" stroke="#000000" stroke-width="5.5" stroke-linejoin="round"/>
<path d="M392.5 2981V3121M484 2870V3004M575.5 2939V3063M667 2926V3048M758.5 2873.7V2997.7M850 2900V3024" fill="none" stroke="#000000" stroke-width="11" stroke-opacity="0.4"/>
<path d="M392.5 2981V3121M484 2870V3004M575.5 2939V3063M667 2926V3048M758.5 2873.7V2997.7M850 2900V3024" fill="none" stroke="#000000" stroke-width="4"/>
<path d="M386.5 2982H398.5M386.5 3120H398.5M478 2871H490M478 3003H490M569.5 2940H581.5M569.5 3062H581.5M661 2927H673M661 3047H673M752.5 2874.7H764.5M752.5 2996.7H764.5M844 2901H856M844 3023H856" fill="none" stroke="#000000" stroke-width="6"/>
<path d="M383.5 3051H401.5M474 2937H494M563 3001H588M650 2987H684M736.5 2935.7H780.5M825 2962H875" fill="none" stroke="#000000" stroke-width="7"/>
<path d="M387.25 3044.5V3057.5M397.75 3044.5V3057.5M477.75 2930.5V2943.5M490.25 2930.5V2943.5M566.75 2994.5V3007.5M584.25 2994.5V3007.5M653.75 2980.5V2993.5M680.25 2980.5V2993.5M740.25 2929.2V2942.2M776.75 2929.2V2942.2M828.75 2955.5V2968.5M871.25 2955.5V2968.5" fill="none" stroke="#000000" stroke-width="7.5"/>
<rect x="1536.1" y="2561" width="776.4" height="431" fill="#fff" stroke="#000" stroke-width="3.6"/>
<line x1="1564.5" y1="2604" x2="1702.7" y2="2604" stroke="#000000" stroke-width="6"/>
<text x="1730" y="2622" font-size="74">S</text>
<text x="1776" y="2647" font-size="50">0</text>
<text x="1802" y="2622" font-size="74">'</text>
<text x="1834" y="2622" font-size="74">= 400</text>
<text x="2036" y="2622" font-size="74">μm</text>
<line x1="1564.5" y1="2690.3" x2="1702.7" y2="2690.3" stroke="#ff0000" stroke-width="6"/>
<text x="1730" y="2708.3" font-size="74">S</text>
<text x="1776" y="2733.3" font-size="50">0</text>
<text x="1802" y="2708.3" font-size="74">'</text>
<text x="1834" y="2708.3" font-size="74">= 500</text>
<text x="2036" y="2708.3" font-size="74">μm</text>
<line x1="1564.5" y1="2776.6" x2="1702.7" y2="2776.6" stroke="#00ff00" stroke-width="6"/>
<text x="1730" y="2794.6" font-size="74">S</text>
<text x="1776" y="2819.6" font-size="50">0</text>
<text x="1802" y="2794.6" font-size="74">'</text>
<text x="1834" y="2794.6" font-size="74">= 600</text>
<text x="2036" y="2794.6" font-size="74">μm</text>
<line x1="1564.5" y1="2862.9" x2="1702.7" y2="2862.9" stroke="#0000ff" stroke-width="6"/>
<text x="1730" y="2880.9" font-size="74">S</text>
<text x="1776" y="2905.9" font-size="50">0</text>
<text x="1802" y="2880.9" font-size="74">'</text>
<text x="1834" y="2880.9" font-size="74">= 700</text>
<text x="2036" y="2880.9" font-size="74">μm</text>
<line x1="1564.5" y1="2949.2" x2="1702.7" y2="2949.2" stroke="#ff00ff" stroke-width="6"/>
<text x="1730" y="2967.2" font-size="74">S</text>
<text x="1776" y="2992.2" font-size="50">0</text>
<text x="1802" y="2967.2" font-size="74">'</text>
<text x="1834" y="2967.2" font-size="74">= 800</text>
<text x="2036" y="2967.2" font-size="74">μm</text>
<text transform="translate(101.5,118) rotate(-90)" text-anchor="end" font-size="53">(Measured)</text>
<text transform="translate(78.5,477.25) rotate(-90)" text-anchor="middle" font-size="54">HOPG</text>
<text transform="translate(135,477.25) rotate(-90)" text-anchor="middle" font-size="54">HAPG</text>
<rect x="84.5" y="400" width="4.5" height="154.5" fill="#000"/>
<text transform="translate(101.5,1325.5) rotate(-90)" text-anchor="end" font-size="53">(Calculated)</text>
<text transform="translate(78.5,1701.25) rotate(-90)" text-anchor="middle" font-size="54">HOPG</text>
<text transform="translate(135,1701.25) rotate(-90)" text-anchor="middle" font-size="54">HAPG</text>
<rect x="84.5" y="1625.5" width="4.5" height="151.5" fill="#000"/>
<text transform="translate(68,3065.5) rotate(-90)" text-anchor="middle" font-size="54">HOPG</text>
<text transform="translate(128,3065.5) rotate(-90)" text-anchor="middle" font-size="54">HAPG</text>
<rect x="76" y="2987" width="5" height="157" fill="#000"/>
<path d="M22 3152 Q 80.5 3194 139 3152 L 136 3151.5 Q 80.5 3183.5 25 3151.5 Z" fill="#000"/>
<path d="M22 2976 Q 80.5 2935 139 2976 L 136 2976.5 Q 80.5 2945.5 25 2976.5 Z" fill="#000"/>
<text transform="translate(146,2952) rotate(-90)" font-size="33">calc</text>
<rect x="76" y="2863" width="5" height="14" fill="#555"/>
<text transform="translate(68,2731) rotate(-90)" text-anchor="middle" font-size="54">HOPG</text>
<text transform="translate(128,2731) rotate(-90)" text-anchor="middle" font-size="54">HAPG</text>
<rect x="76" y="2654" width="5" height="154" fill="#000"/>
<path d="M22 2818 Q 80.5 2861 139 2818 L 136 2817.5 Q 80.5 2850.5 25 2817.5 Z" fill="#000"/>
<path d="M22 2642 Q 80.5 2603 139 2642 L 136 2642.5 Q 80.5 2613.5 25 2642.5 Z" fill="#000"/>
<text transform="translate(143.5,2623) rotate(-90)" font-size="33">meas</text>
</svg>
</body></html>
